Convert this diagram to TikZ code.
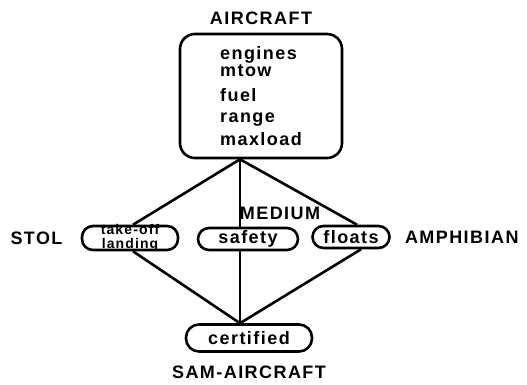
\documentclass[tikz,border=0pt]{standalone}
\usepackage{fontspec}
\setmainfont{Liberation Sans}[LetterSpace=8]
\usepackage{tikz}
\usetikzlibrary{positioning}

\begin{document}
\begin{tikzpicture}[
    x=1pt, y=-1pt,
    pill/.style={draw, line width=2.6pt, rectangle, rounded corners=11pt, inner sep=0pt, font=\bfseries\fontsize{18}{19}\selectfont},
    tag/.style={inner sep=0pt, font=\bfseries\fontsize{18}{19}\selectfont},
    link/.style={line width=2.6pt},
    stem/.style={line width=1.6pt}
  ]
    \useasboundingbox (0,0) rectangle (527,384);

    \node[pill, rounded corners=15pt, minimum width=162pt, minimum height=124pt, align=left] (abox) at (261,96)
      {engines\\[-2pt]mtow\\[6pt]fuel\\[2pt]range\\[4pt]maxload};
    \node[pill, minimum width=96pt, minimum height=24pt] (stol) at (130,238) {};
    \node[tag, align=center, font=\bfseries\fontsize{14}{14.5}\selectfont] (stoltxt) at (stol) {take-off\\landing};
    \node[pill, minimum width=100pt, minimum height=22pt] (safety) at (248,239) {safety};
    \node[pill, minimum width=77pt, minimum height=22pt] (floats) at (351,237) {floats};
    \node[pill, rounded corners=13pt, minimum width=126pt, minimum height=27pt] (cert) at (249,338) {certified};

    \node[tag, above=8pt of abox] (aircraft) {AIRCRAFT};
    \node[tag, left=18pt of stol] (stollbl) {STOL};
    \node[tag, right=14pt of floats] (amph) {AMPHIBIAN};
    \node[tag, below=13pt of cert] (sam) {SAM-AIRCRAFT};

    \coordinate (ajoin) at ([xshift=-21pt]abox.south);
    \coordinate (cjoin) at ([xshift=-9pt]cert.north);

    \draw[link] (ajoin) -- ([xshift=3pt]stol.north);
    \draw[stem] (ajoin) -- (ajoin |- safety.north);
    \draw[link] (ajoin) -- ([xshift=6pt]floats.north);
    \draw[link] ([xshift=3pt]stol.south) -- (cjoin);
    \draw[stem] (cjoin |- safety.south) -- (cjoin);
    \draw[link] ([xshift=10pt]floats.south) -- (cjoin);

    \node[tag, above=7pt of safety, xshift=32pt] (medium) {MEDIUM};
  \end{tikzpicture}
\end{document}
